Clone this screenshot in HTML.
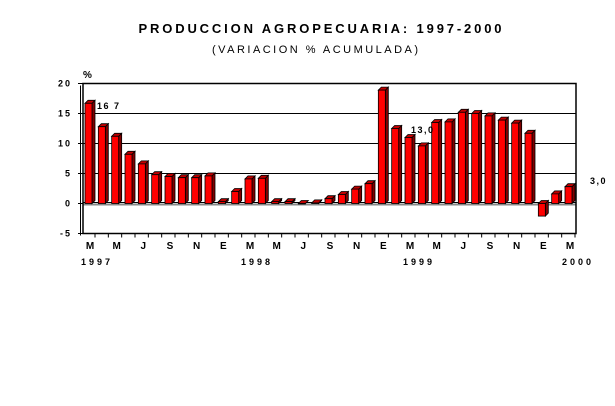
<!DOCTYPE html>
<html><head><meta charset="utf-8"><style>
body{margin:0;background:#fff;}
svg text{font-family:"Liberation Sans",Arial,sans-serif;}
</style></head><body>
<svg id="chart" width="615" height="401" xmlns="http://www.w3.org/2000/svg">
<text x="320" y="33" text-anchor="middle" font-size="13" font-weight="bold" textLength="363" lengthAdjust="spacing">PRODUCCION AGROPECUARIA: 1997-2000</text>
<text x="315" y="53" text-anchor="middle" font-size="11" textLength="206" lengthAdjust="spacing">(VARIACION % ACUMULADA)</text>
<text x="83" y="78" font-size="10" font-weight="bold">%</text>
<g id="grid"></g><g id="bars"></g><g id="axes"></g>
<text x="97" y="109" font-size="9" font-weight="bold" letter-spacing="1.5">16 7</text>
<text x="411" y="133" font-size="9" font-weight="bold" letter-spacing="1.5">13,0</text>
<text x="590" y="184" font-size="9" font-weight="bold" letter-spacing="1.5">3,0</text>
<text x="81" y="265" font-size="9" font-weight="bold" letter-spacing="3">1997</text>
<text x="241" y="265" font-size="9" font-weight="bold" letter-spacing="3">1998</text>
<text x="403" y="265" font-size="9" font-weight="bold" letter-spacing="3">1999</text>
<text x="562" y="265" font-size="9" font-weight="bold" letter-spacing="3">2000</text>
</svg>
<script>
const values=[16.7,12.8,11.2,8.2,6.6,4.8,4.5,4.3,4.3,4.6,0.3,2.0,4.1,4.2,0.3,0.3,0.0,0.1,0.8,1.5,2.4,3.3,18.9,12.5,11.0,9.6,13.5,13.6,15.2,15.0,14.6,13.9,13.4,11.7,-2.1,1.6,2.8];
const monthLabels=["M","","M","","J","","S","","N","","E","","M","","M","","J","","S","","N","","E","","M","","M","","J","","S","","N","","E","","M"];
const yTicks=[20,15,10,5,0,-5];
const NS="http://www.w3.org/2000/svg";
const x0=83,x1=576,yTop=83.5,yBot=233.5;
function ys(v){return 203.5-(v)*6;}
function xs(i){return 85+i*(480/36);}
function mk(tag,attrs,parent){const e=document.createElementNS(NS,tag);for(const k in attrs)e.setAttribute(k,attrs[k]);document.getElementById(parent).appendChild(e);return e;}
yTicks.forEach(t=>{
  const y=ys(t);
  if(t>0&&t<20){const l=mk('line',{x1:x0,x2:x1,y1:y,y2:y,stroke:'#000','stroke-width':1},'grid');
  
  }
  const tx=mk('text',{x:72,y:y+3,'font-size':9,'font-weight':'bold','text-anchor':'end','letter-spacing':'2'},'axes');
  tx.textContent=String(t).split('').join('');
  
  
  const tk=mk('line',{x1:78,x2:83,y1:y,y2:y,stroke:'#000'},'axes');
  
  
});
// zero line / floor
const z=mk('line',{x1:x0,x2:x1,y1:ys(0)+1,y2:ys(0)+1,stroke:'#888','stroke-width':2},'grid');


const z2=mk('line',{x1:x0,x2:x1,y1:ys(0)-1,y2:ys(0)-1,stroke:'#000','stroke-width':1},'grid');


const fr=mk('rect',{x:x0,y:yTop,width:x1-x0,height:yBot-yTop,fill:'none',stroke:'#000','stroke-width':1.5},'axes');


const la=mk('line',{x1:80.5,x2:80.5,y1:yTop+2,y2:yBot+2,stroke:'#000','stroke-width':1},'axes');


values.forEach((v,i)=>{
  const x=xs(i),w=7,d=3;
  const top=Math.min(ys(v),ys(0)),bot=Math.max(ys(v),ys(0));
  const g=document.createElementNS(NS,'g');
  
  
  document.getElementById('bars').appendChild(g);
  const side=document.createElementNS(NS,'polygon');
  side.setAttribute('points',`${x+w},${top} ${x+w+d},${top-d} ${x+w+d},${bot-d} ${x+w},${bot}`);
  side.setAttribute('fill','#800000');side.setAttribute('stroke','#000');side.setAttribute('stroke-width','0.8');
  g.appendChild(side);
  const tp=document.createElementNS(NS,'polygon');
  tp.setAttribute('points',`${x},${top} ${x+d},${top-d} ${x+w+d},${top-d} ${x+w},${top}`);
  tp.setAttribute('fill','#c00000');tp.setAttribute('stroke','#000');tp.setAttribute('stroke-width','0.8');
  g.appendChild(tp);
  const fr=document.createElementNS(NS,'rect');
  fr.setAttribute('x',x);fr.setAttribute('y',top);fr.setAttribute('width',w);fr.setAttribute('height',Math.max(bot-top,0.5));
  fr.setAttribute('fill','#ff0000');fr.setAttribute('stroke','#000');fr.setAttribute('stroke-width','0.8');
  g.appendChild(fr);
  const tk=mk('line',{x1:x+w+3,x2:x+w+3,y1:yBot,y2:yBot+4,stroke:'#000'},'axes');
  
  
  if(monthLabels[i]){
    const t=mk('text',{x:x+5,y:249,'font-size':10,'font-weight':'bold','text-anchor':'middle'},'axes');
    t.textContent=monthLabels[i];
    
    
  }
});
</script>
</body></html>
